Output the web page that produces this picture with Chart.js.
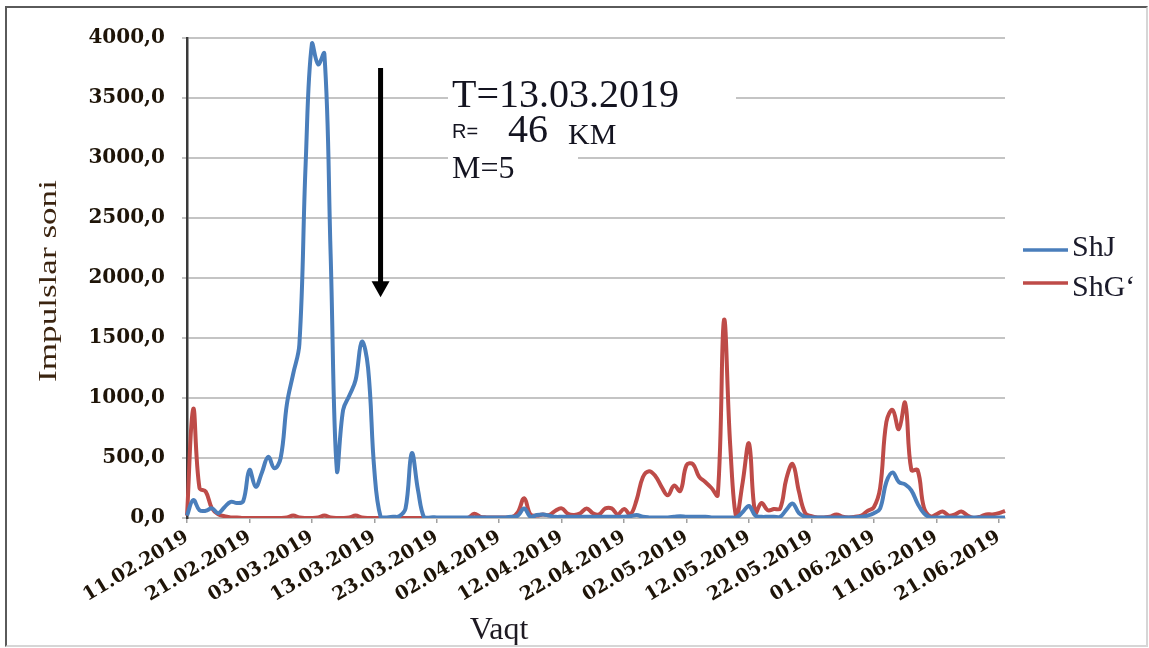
<!DOCTYPE html>
<html>
<head>
<meta charset="utf-8">
<script src="https://cdn.jsdelivr.net/npm/chart.js@4.4.1/dist/chart.umd.min.js"></script>
<style>
  html, body { margin: 0; padding: 0; background: #fff; }
  #wrap { position: relative; width: 1149px; height: 648px; }
  #frame {
    position: absolute; left: 5px; top: 6px; width: 1139px; height: 637px;
    border-style: solid; border-width: 2px;
    border-color: #5a5a5a #d6d6d6 #d6d6d6 #5a5a5a;
    pointer-events: none;
  }
  canvas { position: absolute; left: 0; top: 0; }
</style>
</head>
<body>
<div id="wrap">
  <canvas id="chart" width="1149" height="648"></canvas>
  <div id="frame"></div>
</div>
<script>
// kunlik o'lchovlar 11.02.2019 dan 22.06.2019 gacha
const startDate = new Date(2019, 1, 11);
const dayCount = 132;

const tickLabels = [
  "11.02.2019", "21.02.2019", "03.03.2019", "13.03.2019", "23.03.2019",
  "02.04.2019", "12.04.2019", "22.04.2019", "02.05.2019", "12.05.2019",
  "22.05.2019", "01.06.2019", "11.06.2019", "21.06.2019"
];

const seriesNames = ["ShJ", "ShGʻ"];

const shj = [
  20, 150, 65, 60, 80, 40, 90, 135, 125, 140,
  400, 260, 380, 510, 415, 500, 950, 1200, 1450, 2950,
  3950, 3780, 3870, 2200, 400, 900, 1020, 1150, 1470, 1250,
  400, 10, 5, 10, 15, 80, 540, 230, 0, 5,
  5, 5, 5, 5, 5, 5, 5, 5, 5, 5,
  5, 5, 10, 20, 80, 10, 25, 30, 20, 10,
  10, 10, 10, 10, 10, 10, 10, 10, 10, 10,
  10, 15, 25, 10, 5, 5, 5, 5, 10, 15,
  10, 10, 10, 10, 5, 5, 5, 5, 5, 50,
  100, 20, 10, 10, 10, 10, 70, 120, 40, 10,
  5, 5, 5, 5, 5, 5, 5, 5, 10, 20,
  40, 80, 300, 380, 300, 280, 230, 120, 40, 5,
  5, 5, 5, 5, 5, 5, 5, 5, 5, 5,
  5, 5
];

const shg = [
  20, 910, 250, 220, 80, 30, 15, 5, 5, 0,
  0, 0, 0, 0, 0, 0, 5, 20, 5, 0,
  0, 5, 20, 5, 0, 0, 5, 20, 5, 0,
  0, 0, 0, 0, 0, 0, 0, 0, 0, 0,
  0, 0, 0, 0, 0, 0, 35, 10, 5, 5,
  5, 5, 5, 50, 165, 30, 20, 30, 25, 60,
  80, 35, 25, 40, 80, 40, 30, 80, 80, 30,
  75, 30, 150, 340, 390, 350, 260, 190, 270, 225,
  440, 450, 345, 300, 250, 190, 1650, 600, 0, 300,
  620, 40, 125, 65, 75, 80, 330, 450, 220, 40,
  15, 5, 5, 10, 30, 10, 5, 10, 20, 60,
  90, 250, 800, 900, 740, 960, 400, 400, 90, 15,
  30, 55, 20, 30, 55, 20, 0, 10, 30, 30,
  40, 60
];

const yTicks = { min: 0, max: 4000, step: 500 };

const categories = [];
for (let i = 0; i < dayCount; i++) {
  const d = new Date(startDate.getFullYear(), startDate.getMonth(), startDate.getDate() + i);
  const dd = String(d.getDate()).padStart(2, "0");
  const mm = String(d.getMonth() + 1).padStart(2, "0");
  categories.push(dd + "." + mm + "." + d.getFullYear());
}

const colors = ["#4a7ebb", "#be4b48"];

const extras = {
  id: "extras",
  afterDraw(chart) {
    const ctx = chart.ctx;
    const xs = chart.scales.x;
    const ys = chart.scales.y;
    ctx.save();

    // matn ostidagi oq fon
    ctx.fillStyle = "#fff";
    ctx.fillRect(448, 74, 288, 40);
    ctx.fillRect(448, 148, 130, 40);

    ctx.fillStyle = "#141420";
    ctx.textAlign = "left";
    ctx.textBaseline = "alphabetic";
    ctx.font = "40px 'Liberation Serif'";
    ctx.fillText("T=13.03.2019", 452, 107);
    ctx.font = "20px 'Liberation Sans'";
    ctx.fillText("R=", 452, 138);
    ctx.font = "40px 'Liberation Serif'";
    ctx.fillText("46", 508, 142);
    ctx.font = "30px 'Liberation Serif'";
    ctx.fillText("KM", 568, 144);
    ctx.font = "32px 'Liberation Serif'";
    ctx.fillText("M=5", 452, 178);

    // zilzila vaqti strelkasi
    const ax = xs.getPixelForValue(31);
    const aTop = ys.getPixelForValue(3750);
    const aTip = ys.getPixelForValue(1840);
    ctx.strokeStyle = "#000";
    ctx.lineWidth = 5;
    ctx.beginPath();
    ctx.moveTo(ax, aTop);
    ctx.lineTo(ax, aTip - 12);
    ctx.stroke();
    ctx.fillStyle = "#000";
    ctx.beginPath();
    ctx.moveTo(ax - 9, aTip - 16);
    ctx.lineTo(ax + 9, aTip - 16);
    ctx.lineTo(ax, aTip);
    ctx.closePath();
    ctx.fill();

    // legenda
    const legY = [250, 283];
    const legText = [256, 296];
    ctx.font = "30px 'Liberation Serif'";
    seriesNames.forEach((name, i) => {
      ctx.strokeStyle = colors[i];
      ctx.lineWidth = 3.5;
      ctx.beginPath();
      ctx.moveTo(1023, legY[i]);
      ctx.lineTo(1068, legY[i]);
      ctx.stroke();
      ctx.fillStyle = "#1a1a2a";
      ctx.fillText(name, 1072, legText[i]);
    });

    // o'q nomlari
    ctx.fillStyle = "#1e1a22";
    ctx.font = "32px 'Liberation Serif'";
    ctx.textAlign = "center";
    ctx.fillText("Vaqt", 499, 639);

    ctx.save();
    ctx.translate(56, 281);
    ctx.rotate(-Math.PI / 2);
    ctx.scale(1.35, 1);
    ctx.fillStyle = "#3b2410";
    ctx.font = "26px 'Liberation Serif'";
    ctx.fillText("Impulslar soni", 0, 0);
    ctx.restore();

    ctx.restore();
  }
};

new Chart(document.getElementById("chart"), {
  type: "line",
  data: {
    labels: categories,
    datasets: [
      { label: seriesNames[0], data: shj, borderColor: colors[0], borderWidth: 4, pointRadius: 0, tension: 0.4, fill: false },
      { label: seriesNames[1], data: shg, borderColor: colors[1], borderWidth: 4, pointRadius: 0, tension: 0.4, fill: false }
    ]
  },
  options: {
    responsive: false,
    animation: false,
    layout: { padding: { left: 0, right: 144, top: 38, bottom: 0 } },
    plugins: {
      legend: { display: false },
      tooltip: { enabled: false }
    },
    scales: {
      x: {
        afterFit: s => { s.height = 130; },
        grid: {
          drawOnChartArea: false,
          tickLength: 5,
          lineWidth: 1.5,
          tickColor: c => (c.tick && tickLabels.includes(categories[c.index]) ? "#a0a0a0" : "rgba(0,0,0,0)")
        },
        border: { color: "#bdbdbd", width: 2 },
        ticks: {
          autoSkip: false,
          minRotation: 31,
          maxRotation: 31,
          padding: 3,
          color: "#1e1408",
          font: { family: "DejaVu Serif", weight: "bold", size: 19 },
          callback: function (val, index) {
            const lab = categories[index];
            return tickLabels.includes(lab) ? lab : "";
          }
        }
      },
      y: {
        min: yTicks.min,
        max: yTicks.max,
        afterFit: s => { s.width = 187; },
        grid: { color: "#c4c4c4", lineWidth: 2, tickLength: 5 },
        border: { color: "#3a3a3a", width: 2.5 },
        ticks: {
          stepSize: yTicks.step,
          padding: 17,
          color: "#1e1408",
          font: { family: "DejaVu Serif", weight: "bold", size: 20 },
          callback: v => v.toFixed(1).replace(".", ",")
        }
      }
    }
  },
  plugins: [extras]
});
</script>
</body>
</html>
